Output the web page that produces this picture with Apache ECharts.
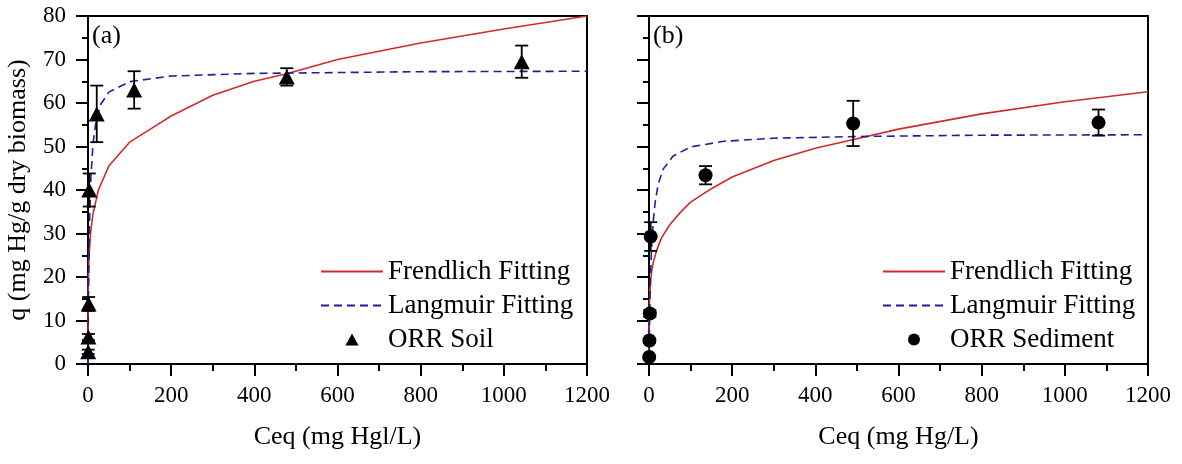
<!DOCTYPE html>
<html>
<head>
<meta charset="utf-8">
<script src="https://cdn.jsdelivr.net/npm/echarts@6/dist/echarts.min.js"></script>
<style>html,body{margin:0;padding:0;background:#fff;}#c{width:1182px;height:464px;}</style>
</head>
<body>
<div id="c"></div>
<script>
// ---------- data ----------
const xTicks = [0, 200, 400, 600, 800, 1000, 1200];
const yTicks = [0, 10, 20, 30, 40, 50, 60, 70, 80];

// (a) ORR Soil
const soilX = [0.5, 1, 1.5, 3, 21, 111, 478, 1043];
const soilY = [2.8, 6.2, 13.8, 40.0, 57.5, 63.0, 66.0, 69.5];
const soilErr = [0.5, 0.7, 1.6, 3.8, 6.5, 4.3, 2.0, 3.7];
const soilFreundlich = [[0,0],[0.3,15],[1,20],[3,25.5],[6,30],[12,34.5],[25,40],[50,45.5],[100,51],[150,54],[200,57],[300,61.8],[400,65],[480,66.8],[600,70],[800,73.8],[1000,77],[1200,80]];
const soilLangmuir = [[0,0],[0.5,7.5],[1,13.5],[2,22.5],[4,33.8],[7,43],[12,50.6],[20,56.3],[30,59.6],[50,62.5],[100,64.9],[200,66.2],[400,66.8],[800,67.2],[1200,67.3]];

// (b) ORR Sediment
const sedX = [0.5, 1, 2, 4, 136, 491, 1081];
const sedY = [1.6, 5.4, 11.6, 29.3, 43.4, 55.3, 55.5];
const sedErr = [0.3, 0.5, 0.8, 3.3, 2.1, 5.2, 3.0];
const sedFreundlich = [[0,0],[0.3,11],[1,14],[2,16.5],[4,19.3],[6,21],[10,23.3],[18,26],[30,29],[50,32],[75,34.8],[100,37.2],[150,40.3],[200,43],[300,46.8],[400,49.6],[500,51.8],[600,54],[800,57.5],[1000,60.3],[1200,62.6]];
const sedLangmuir = [[0,0],[1,7.3],[2,12.9],[4,20.9],[6,26.2],[10,32.6],[15,37.3],[22,41.3],[34,44.8],[58,47.8],[100,49.9],[180,51.2],[300,51.9],[500,52.3],[800,52.6],[1200,52.7]];

// ---------- styling ----------
const FONT = 'Liberation Serif';
const RED = '#d02a2a';
const BLUE = '#1f1f9e';

function xAxis(gi, name) {
  return {
    gridIndex: gi, type: 'value', min: xTicks[0], max: xTicks[xTicks.length-1], interval: xTicks[1]-xTicks[0],
    name: name, nameLocation: 'middle', nameGap: 60,
    nameTextStyle: {fontFamily: FONT, fontSize: 26, color: '#000'},
    axisLine: {onZero: false, lineStyle: {color: '#000', width: 2}},
    axisTick: {length: 12, lineStyle: {color: '#000', width: 2}},
    minorTick: {show: true, splitNumber: 2, length: 7, lineStyle: {color: '#000', width: 2}},
    axisLabel: {fontFamily: FONT, fontSize: 23, color: '#000', margin: 20, formatter: v => String(v)},
    splitLine: {show: false}, minorSplitLine: {show: false}
  };
}
function yAxis(gi, showLabel) {
  return {
    gridIndex: gi, type: 'value', min: yTicks[0], max: yTicks[yTicks.length-1], interval: yTicks[1]-yTicks[0],
    name: showLabel ? 'q (mg Hg/g dry biomass)' : '', nameLocation: 'middle', nameGap: 57,
    nameTextStyle: {fontFamily: FONT, fontSize: 26, color: '#000'},
    axisLine: {onZero: false, lineStyle: {color: '#000', width: 2}},
    axisTick: {length: 12, lineStyle: {color: '#000', width: 2}},
    minorTick: {show: true, splitNumber: 2, length: 6, lineStyle: {color: '#000', width: 2}},
    axisLabel: {show: showLabel, fontFamily: FONT, fontSize: 23, color: '#000', margin: 22, formatter: v => String(v)},
    splitLine: {show: false}, minorSplitLine: {show: false}
  };
}
function errRender(params, api) {
  const x = api.value(0), y = api.value(1), e = api.value(2);
  const t = api.coord([x, y + e]);
  const b = api.coord([x, y - e]);
  const w = 6.5;
  const st = {stroke: '#000', lineWidth: 1.8};
  return {type: 'group', children: [
    {type: 'line', shape: {x1: t[0], y1: t[1], x2: b[0], y2: b[1]}, style: st},
    {type: 'line', shape: {x1: t[0]-w, y1: t[1], x2: t[0]+w, y2: t[1]}, style: st},
    {type: 'line', shape: {x1: b[0]-w, y1: b[1], x2: b[0]+w, y2: b[1]}, style: st}
  ]};
}
function lineSeries(name, data, gi, color, dashed) {
  return {
    name: name, type: 'line', xAxisIndex: gi, yAxisIndex: gi, data: data,
    symbol: 'none', showSymbol: false, smooth: false,
    lineStyle: {color: color, width: 1.6, type: dashed ? [8, 5] : 'solid'},
    itemStyle: {color: color}, z: 2, animation: false
  };
}
const zip = (xs, ys, es) => xs.map((x, i) => es ? [x, ys[i], es[i]] : [x, ys[i]]);

const chart = echarts.init(document.getElementById('c'), null, {renderer: 'canvas'});
const legendBase = {
  orient: 'vertical', top: 258, itemWidth: 62, itemHeight: 12, itemGap: 7, padding: 0,
  textStyle: {fontFamily: FONT, fontSize: 27, color: '#000'}, selectedMode: false
};
const lineItems = [
  {name: 'Frendlich Fitting', itemStyle: {opacity: 0}},
  {name: 'Langmuir Fitting', itemStyle: {opacity: 0}}
];
chart.setOption({
  animation: false,
  backgroundColor: '#fff',
  grid: [
    {left: 88, top: 16, width: 499, height: 348, show: true, borderColor: '#000', borderWidth: 2},
    {left: 649, top: 16, width: 499, height: 348, show: true, borderColor: '#000', borderWidth: 2}
  ],
  xAxis: [xAxis(0, 'Ceq (mg Hgl/L)'), xAxis(1, 'Ceq (mg Hg/L)')],
  yAxis: [yAxis(0, true), yAxis(1, false)],
  legend: [
    Object.assign({}, legendBase, {left: 320, data: lineItems.concat([
      {name: 'ORR Soil', icon: 'path://M5,0 L10,9 L0,9 Z', itemStyle: {color: '#000', opacity: 1}}])}),
    Object.assign({}, legendBase, {left: 882, data: lineItems.concat([
      {name: 'ORR Sediment', icon: 'circle', itemStyle: {color: '#000', opacity: 1}}])})
  ],
  graphic: [
    {type: 'text', left: 92, top: 23, style: {text: '(a)', font: '26px "Liberation Serif"', fill: '#000'}},
    {type: 'text', left: 653, top: 23, style: {text: '(b)', font: '26px "Liberation Serif"', fill: '#000'}}
  ],
  series: [
    lineSeries('Frendlich Fitting', soilFreundlich, 0, RED, false),
    lineSeries('Langmuir Fitting', soilLangmuir, 0, BLUE, true),
    {type: 'custom', xAxisIndex: 0, yAxisIndex: 0, renderItem: errRender, data: zip(soilX, soilY, soilErr), z: 3, silent: true},
    {name: 'ORR Soil', type: 'scatter', xAxisIndex: 0, yAxisIndex: 0, data: zip(soilX, soilY),
     symbol: 'triangle', symbolSize: [16, 15], itemStyle: {color: '#000', opacity: 1}, z: 4},
    lineSeries('Frendlich Fitting', sedFreundlich, 1, RED, false),
    lineSeries('Langmuir Fitting', sedLangmuir, 1, BLUE, true),
    {type: 'custom', xAxisIndex: 1, yAxisIndex: 1, renderItem: errRender, data: zip(sedX, sedY, sedErr), z: 3, silent: true},
    {name: 'ORR Sediment', type: 'scatter', xAxisIndex: 1, yAxisIndex: 1, data: zip(sedX, sedY),
     symbol: 'circle', symbolSize: 14, itemStyle: {color: '#000', opacity: 1}, z: 4}
  ]
});
</script>
</body>
</html>
